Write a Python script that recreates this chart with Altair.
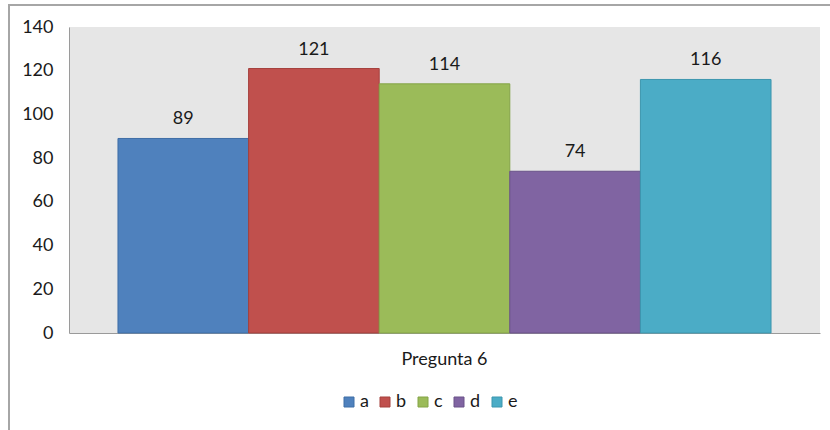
import altair as alt
import pandas as pd

# Answers to question 6
pregunta = ["Pregunta 6"] * 5
opciones = ["a", "b", "c", "d", "e"]
conteos = [89, 121, 114, 74, 116]
colores = ["#4f81bd", "#c0504d", "#9bbb59", "#8064a2", "#4bacc6"]
bordes = ["#3f6ea6", "#a5403d", "#84a447", "#6a5289", "#3c96ae"]

df = pd.DataFrame({"pregunta": pregunta, "opcion": opciones, "n": conteos})

FONT = "Lato"
FS = 18
W, H = 751, 306

color_scale = alt.Scale(domain=opciones, range=colores)

x = alt.X("pregunta:N", title=None,
          scale=alt.Scale(paddingOuter=0.075, paddingInner=0),
          axis=alt.Axis(labelAngle=0, labelFont=FONT, labelFontSize=FS,
                        labelColor="#1a1a1a", labelPadding=17, ticks=False,
                        domainColor="#9a9a9a", domainWidth=1))
y = alt.Y("n:Q", title=None,
          scale=alt.Scale(domain=[0, 140], nice=False),
          axis=alt.Axis(values=list(range(0, 141, 20)), grid=False, ticks=False,
                        labelFont=FONT, labelFontSize=FS, labelColor="#1a1a1a",
                        labelPadding=16, domainColor="#9a9a9a", domainWidth=1))
xo = alt.XOffset("opcion:N", sort=opciones, scale=alt.Scale(paddingInner=0, paddingOuter=0))

bars = alt.Chart(df).mark_bar(strokeWidth=1).encode(
    x=x, xOffset=xo, y=y,
    color=alt.Color("opcion:N", scale=color_scale, sort=opciones, title=None,
                    legend=alt.Legend(orient="none", direction="horizontal",
                                      legendX=271, legendY=366,
                                      symbolType="square", symbolSize=100,
                                      symbolStrokeWidth=1,
                                      labelFont=FONT, labelFontSize=FS,
                                      labelColor="#1a1a1a", columnPadding=7,
                                      labelOffset=2)),
    stroke=alt.Stroke("opcion:N", scale=alt.Scale(domain=opciones, range=bordes),
                      legend=None),
)

labels = alt.Chart(df).mark_text(baseline="bottom", dy=-10, font=FONT,
                                 fontSize=FS, color="#1a1a1a").encode(
    x=x, xOffset=xo, y=y, text=alt.Text("n:Q"),
)

# Outer frame around the whole chart
frame = alt.Chart(df).mark_rect(fill=None, stroke="#a6a6a6", strokeWidth=2,
                                clip=False).encode(
    x=alt.value(-60), x2=alt.value(W + 30),
    y=alt.value(-22), y2=alt.value(H + 140),
)

chart = alt.layer(frame, bars, labels).properties(
    width=W, height=H,
    autosize=alt.AutoSizeParams(type="none"),
    padding={"left": 69, "top": 27, "right": 10, "bottom": 97},
    background="white",
).configure_view(fill="#e6e6e6", stroke=None)

chart.save("out.html", embed_options={"renderer": "svg", "actions": False})
